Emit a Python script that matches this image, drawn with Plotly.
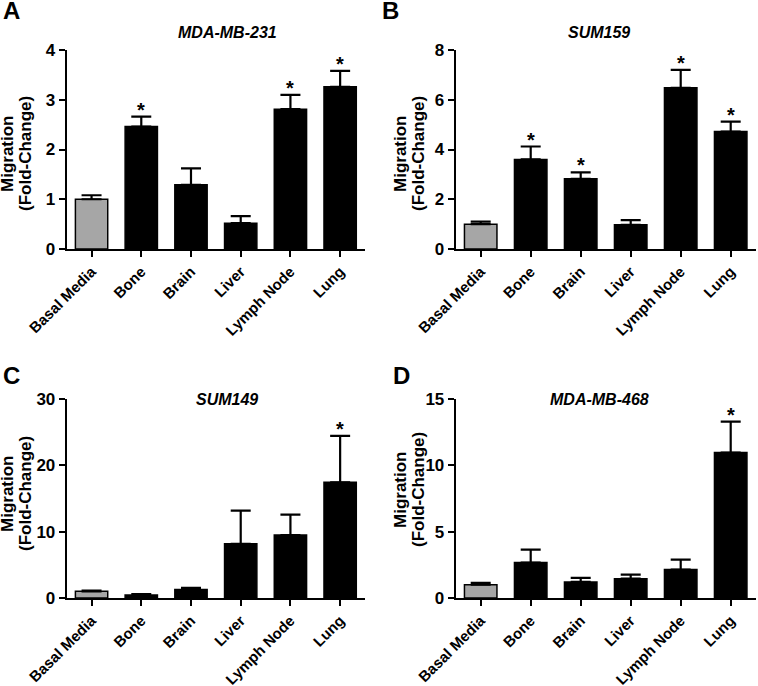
import plotly.graph_objects as go
from plotly.subplots import make_subplots

W, H = 758, 686

categories = ["Basal Media", "Bone", "Brain", "Liver", "Lymph Node", "Lung"]

mda231_mean = [1.0, 2.46, 1.29, 0.52, 2.81, 3.26]
mda231_err = [0.08, 0.20, 0.33, 0.14, 0.29, 0.32]
mda231_sig = [False, True, False, False, True, True]

sum159_mean = [1.0, 3.6, 2.82, 0.97, 6.48, 4.72]
sum159_err = [0.10, 0.52, 0.26, 0.19, 0.72, 0.40]
sum159_sig = [False, True, True, False, True, True]

sum149_mean = [1.0, 0.45, 1.28, 8.17, 9.48, 17.45]
sum149_err = [0.12, 0.12, 0.25, 5.0, 3.1, 7.0]
sum149_sig = [False, False, False, False, False, True]

mda468_mean = [1.0, 2.67, 1.21, 1.46, 2.14, 10.96]
mda468_err = [0.15, 0.98, 0.30, 0.30, 0.76, 2.34]
mda468_sig = [False, False, False, False, False, True]

panels = [
    ("A", "MDA-MB-231", mda231_mean, mda231_err, mda231_sig, 4, 1),
    ("B", "SUM159", sum159_mean, sum159_err, sum159_sig, 8, 2),
    ("C", "SUM149", sum149_mean, sum149_err, sum149_sig, 30, 10),
    ("D", "MDA-MB-468", mda468_mean, mda468_err, mda468_sig, 15, 5),
]

# pixel boxes of each plot area: (left, right, top, bottom)
boxes = [(66.7, 365, 50, 249), (455.7, 755.7, 50, 249),
         (66.7, 365, 399, 598), (455.7, 755.7, 399, 598)]
letter_pos = [(11, 11), (390, 11), (11, 376), (401, 375)]
title_pos = [(227, 32), (599, 32), (227, 399), (599, 399)]
ylab_x = [(7, 25), (400, 418), (7, 25), (400, 418)]
ylab_y = [154, 154, 494, 490]

FONT = "Liberation Sans, Arial, sans-serif"
bar_colors = ["#a6a6a6"] + ["#000000"] * 5


def px_x(x):
    return x / W


def px_y(y):
    return 1 - y / H


fig = make_subplots(rows=2, cols=2)

annotations = []
for i, (letter, title, mean, err, sig, ymax, dtick) in enumerate(panels):
    row, col = i // 2 + 1, i % 2 + 1
    fig.add_trace(
        go.Bar(
            x=categories,
            y=mean,
            width=0.65,
            marker=dict(color=bar_colors, line=dict(color="black", width=1.5)),
            error_y=dict(type="data", symmetric=False, array=err,
                         arrayminus=[0] * len(err), color="black",
                         thickness=2.2, width=10),
            showlegend=False,
        ),
        row=row, col=col
    )
    l, r, t, b = boxes[i]
    ax = "" if i == 0 else str(i + 1)
    fig.update_layout({
        f"xaxis{ax}": dict(
            domain=[px_x(l), px_x(r)], showline=True, linecolor="black",
            linewidth=2, ticks="outside", ticklen=6, tickwidth=2,
            tickcolor="black", tickangle=-45, showgrid=False, automargin=False,
            tickfont=dict(family=FONT, size=15, color="black", weight="bold"),
        ),
        f"yaxis{ax}": dict(
            domain=[px_y(b), px_y(t)], range=[0, ymax], dtick=dtick,
            showline=True, linecolor="black", linewidth=2, ticks="outside",
            ticklen=6, tickwidth=2, tickcolor="black", showgrid=False,
            zeroline=False, automargin=False,
            tickfont=dict(family=FONT, size=17, color="black", weight="bold"),
        ),
    })
    xref = "x" if i == 0 else f"x{i + 1}"
    yref = "y" if i == 0 else f"y{i + 1}"
    for c, m, e, s in zip(categories, mean, err, sig):
        if s:
            annotations.append(dict(
                x=c, y=m + e, xref=xref, yref=yref, text="*", showarrow=False,
                yanchor="bottom", yshift=-6,
                font=dict(family=FONT, size=20, color="black", weight="bold"),
            ))
    lx, ly = letter_pos[i]
    annotations.append(dict(
        x=px_x(lx), y=px_y(ly), xref="paper", yref="paper", text=letter,
        showarrow=False, xanchor="center", yanchor="middle",
        font=dict(family=FONT, size=24, color="black", weight="bold"),
    ))
    tx, ty = title_pos[i]
    annotations.append(dict(
        x=px_x(tx), y=px_y(ty), xref="paper", yref="paper", text=title,
        showarrow=False, xanchor="center", yanchor="middle",
        font=dict(family=FONT, size=16, color="black", weight="bold",
                  style="italic"),
    ))
    for line, lxp in zip(["Migration", "(Fold-Change)"], ylab_x[i]):
        annotations.append(dict(
            x=px_x(lxp), y=px_y(ylab_y[i]), xref="paper", yref="paper",
            text=line, textangle=-90, showarrow=False,
            xanchor="center", yanchor="middle",
            font=dict(family=FONT, size=17, color="black", weight="bold"),
        ))

fig.update_layout(
    width=W,
    height=H,
    margin=dict(l=0, r=0, t=0, b=0),
    plot_bgcolor="white",
    paper_bgcolor="white",
    annotations=annotations,
)

# drop the page's default 8px body margin so the figure sits at the corner
fig.write_html("out.html", config={"displayModeBar": False},
               post_script="document.body.style.margin = '0';")
